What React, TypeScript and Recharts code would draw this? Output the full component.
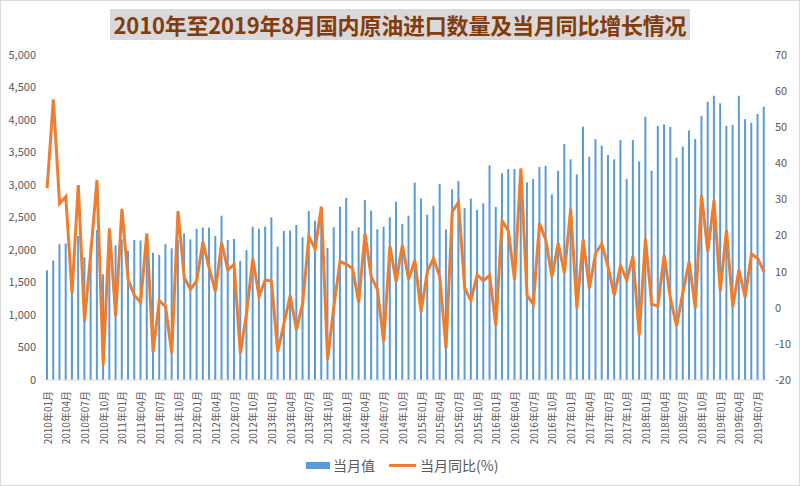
import React from 'react';
import { ComposedChart, Bar, Line, XAxis, YAxis } from 'recharts';

const startYear = 2010;
const endYear = 2019;
const endMonth = 8;

const monthLabels: string[] = [];
for (let y = startYear; y <= endYear; y++) {
  for (let m = 1; m <= 12; m++) {
    if (y === endYear && m > endMonth) break;
    monthLabels.push(`${y}年${m < 10 ? '0' + m : m}月`);
  }
}

// 当月值 (万吨)
const importVolume: number[] = [
  1690, 1840, 2090, 2100, 1450, 2215, 1887, 2072, 2308, 1626, 2050, 2072,
  2164, 1990, 2154, 2144, 2100, 1959, 1923, 2092, 2026, 2150, 2256, 2164,
  2328, 2344, 2344, 2215, 2528, 2154, 2169, 1831, 2000, 2359, 2328, 2359,
  2503, 2051, 2292, 2300, 2385, 2197, 2602, 2450, 2500, 2031, 2349, 2667,
  2800, 2292, 2349, 2769, 2605, 2318, 2359, 2503, 2744, 2400, 2528, 3036,
  2790, 2544, 2682, 3015, 2318, 2933, 3062, 2646, 2790, 2615, 2718, 3303,
  2662, 3180, 3246, 3246, 3230, 3040, 3092, 3277, 3292, 2856, 3220, 3631,
  3395, 3164, 3897, 3436, 3703, 3605, 3462, 3395, 3692, 3092, 3692, 3364,
  4051, 3220, 3908, 3933, 3892, 3421, 3590, 3841, 3708, 4062, 4282, 4374,
  4256, 3908, 3923, 4374, 4010, 3959, 4092, 4205,
];

// 当月同比 (%)
const yoyGrowth: number[] = [
  33.1, 57.7, 28.9, 30.8, 4.0, 34.0, -3.8, 15.0, 35.4, -15.8, 22.0, -2.3,
  27.4, 7.7, 3.5, 1.5, 20.6, -12.2, 2.0, 0.3, -12.6, 26.8, 8.4, 5.1,
  7.5, 18.2, 11.0, 4.5, 18.0, 10.5, 12.0, -12.6, -1.5, 13.6, 3.1, 7.7,
  7.4, -12.2, -4.3, 3.4, -6.1, 1.2, 19.7, 16.3, 28.0, -14.4, 0.3, 12.8,
  12.1, 10.9, 1.5, 20.6, 8.6, 5.1, -9.4, 17.1, 7.2, 17.4, 7.9, 13.2,
  -1.1, 10.0, 13.7, 8.6, -11.2, 26.6, 29.2, 5.4, 2.0, 9.1, 7.5, 9.0,
  -5.0, 24.1, 21.3, 7.7, 38.6, 3.5, 1.0, 23.4, 18.8, 8.6, 17.9, 9.6,
  27.4, -0.1, 19.0, 5.4, 15.1, 17.7, 11.4, 3.5, 11.6, 7.7, 14.2, -7.5,
  19.2, 1.0, 0.5, 14.6, 2.6, -5.0, 4.2, 12.8, -0.1, 31.2, 15.5, 29.8,
  4.6, 21.5, 0.3, 10.5, 2.9, 14.9, 13.7, 10.0,
];

const leftTicks = [0, 500, 1000, 1500, 2000, 2500, 3000, 3500, 4000, 4500, 5000];
const rightTicks = [-20, -10, 0, 10, 20, 30, 40, 50, 60, 70];

const title = '2010年至2019年8月国内原油进口数量及当月同比增长情况';
const seriesNames = ['当月值', '当月同比(%)'];

const data = monthLabels.map((m, i) => ({
  month: m,
  volume: importVolume[i],
  yoy: yoyGrowth[i],
}));

const FONT = '"Noto Sans CJK SC", "Noto Sans", sans-serif';
const BLUE = '#5B9BD5';
const ORANGE = '#ED7D31';
const GRAY_TEXT = '#595959';

const XTick = (props: any) => {
  const { x, y, payload } = props;
  return (
    <text
      x={x}
      y={y + 3}
      transform={`rotate(-90, ${x}, ${y + 3})`}
      textAnchor="end"
      dominantBaseline="central"
      fontSize={10}
      fill={GRAY_TEXT}
      fontFamily={FONT}
    >
      {payload.value}
    </text>
  );
};

export default function App() {
  return (
    <div
      style={{
        position: 'absolute',
        left: 0,
        top: 0,
        width: 800,
        height: 486,
        background: '#fff',
        fontFamily: FONT,
      }}
    >
      <ComposedChart
        width={800}
        height={486}
        data={data}
        margin={{ top: 55, right: 0, left: 0, bottom: 46 }}
      >
        <XAxis
          dataKey="month"
          interval={2}
          height={60}
          tick={<XTick />}
          tickLine={false}
          axisLine={{ stroke: '#d9d9d9' }}
        />
        <YAxis
          yAxisId="left"
          orientation="left"
          width={44}
          domain={[0, 5000]}
          ticks={leftTicks}
          interval={0}
          axisLine={false}
          tickLine={false}
          tick={{ fontSize: 11, fill: GRAY_TEXT, fontFamily: FONT }}
          tickFormatter={(v: number) => v.toLocaleString('en-US')}
        />
        <YAxis
          yAxisId="right"
          orientation="right"
          width={33}
          domain={[-20, 70]}
          ticks={rightTicks}
          interval={0}
          axisLine={false}
          tickLine={false}
          tick={{ fontSize: 11, fill: GRAY_TEXT, fontFamily: FONT, textAnchor: 'start' }}
        />
        <Bar
          yAxisId="left"
          dataKey="volume"
          name={seriesNames[0]}
          fill={BLUE}
          barSize={2}
          isAnimationActive={false}
        />
        <Line
          yAxisId="right"
          dataKey="yoy"
          name={seriesNames[1]}
          type="linear"
          stroke={ORANGE}
          strokeWidth={3}
          dot={false}
          activeDot={false}
          isAnimationActive={false}
        />
      </ComposedChart>

      <div
        style={{
          position: 'absolute',
          left: 110,
          top: 9,
          width: 580,
          height: 31,
          background: '#d9d9d9',
          color: '#843C0C',
          fontWeight: 700,
          fontSize: 22,
          lineHeight: '31px',
          textAlign: 'center',
          whiteSpace: 'nowrap',
          letterSpacing: -0.2,
        }}
      >
        {title}
      </div>

      <div
        style={{
          position: 'absolute',
          left: 306,
          top: 455,
          height: 20,
          display: 'flex',
          alignItems: 'center',
          fontSize: 14,
          color: GRAY_TEXT,
          whiteSpace: 'nowrap',
        }}
      >
        <span style={{ display: 'inline-block', width: 24, height: 7, background: BLUE, marginRight: 3 }} />
        <span>{seriesNames[0]}</span>
        <span style={{ display: 'inline-block', width: 27, height: 3, background: ORANGE, marginLeft: 14, marginRight: 4 }} />
        <span>{seriesNames[1]}</span>
      </div>

      <div
        style={{
          position: 'absolute',
          left: 0,
          top: 0,
          width: 800,
          height: 486,
          boxSizing: 'border-box',
          border: '1px solid #d9d9d9',
          pointerEvents: 'none',
        }}
      />
    </div>
  );
}
